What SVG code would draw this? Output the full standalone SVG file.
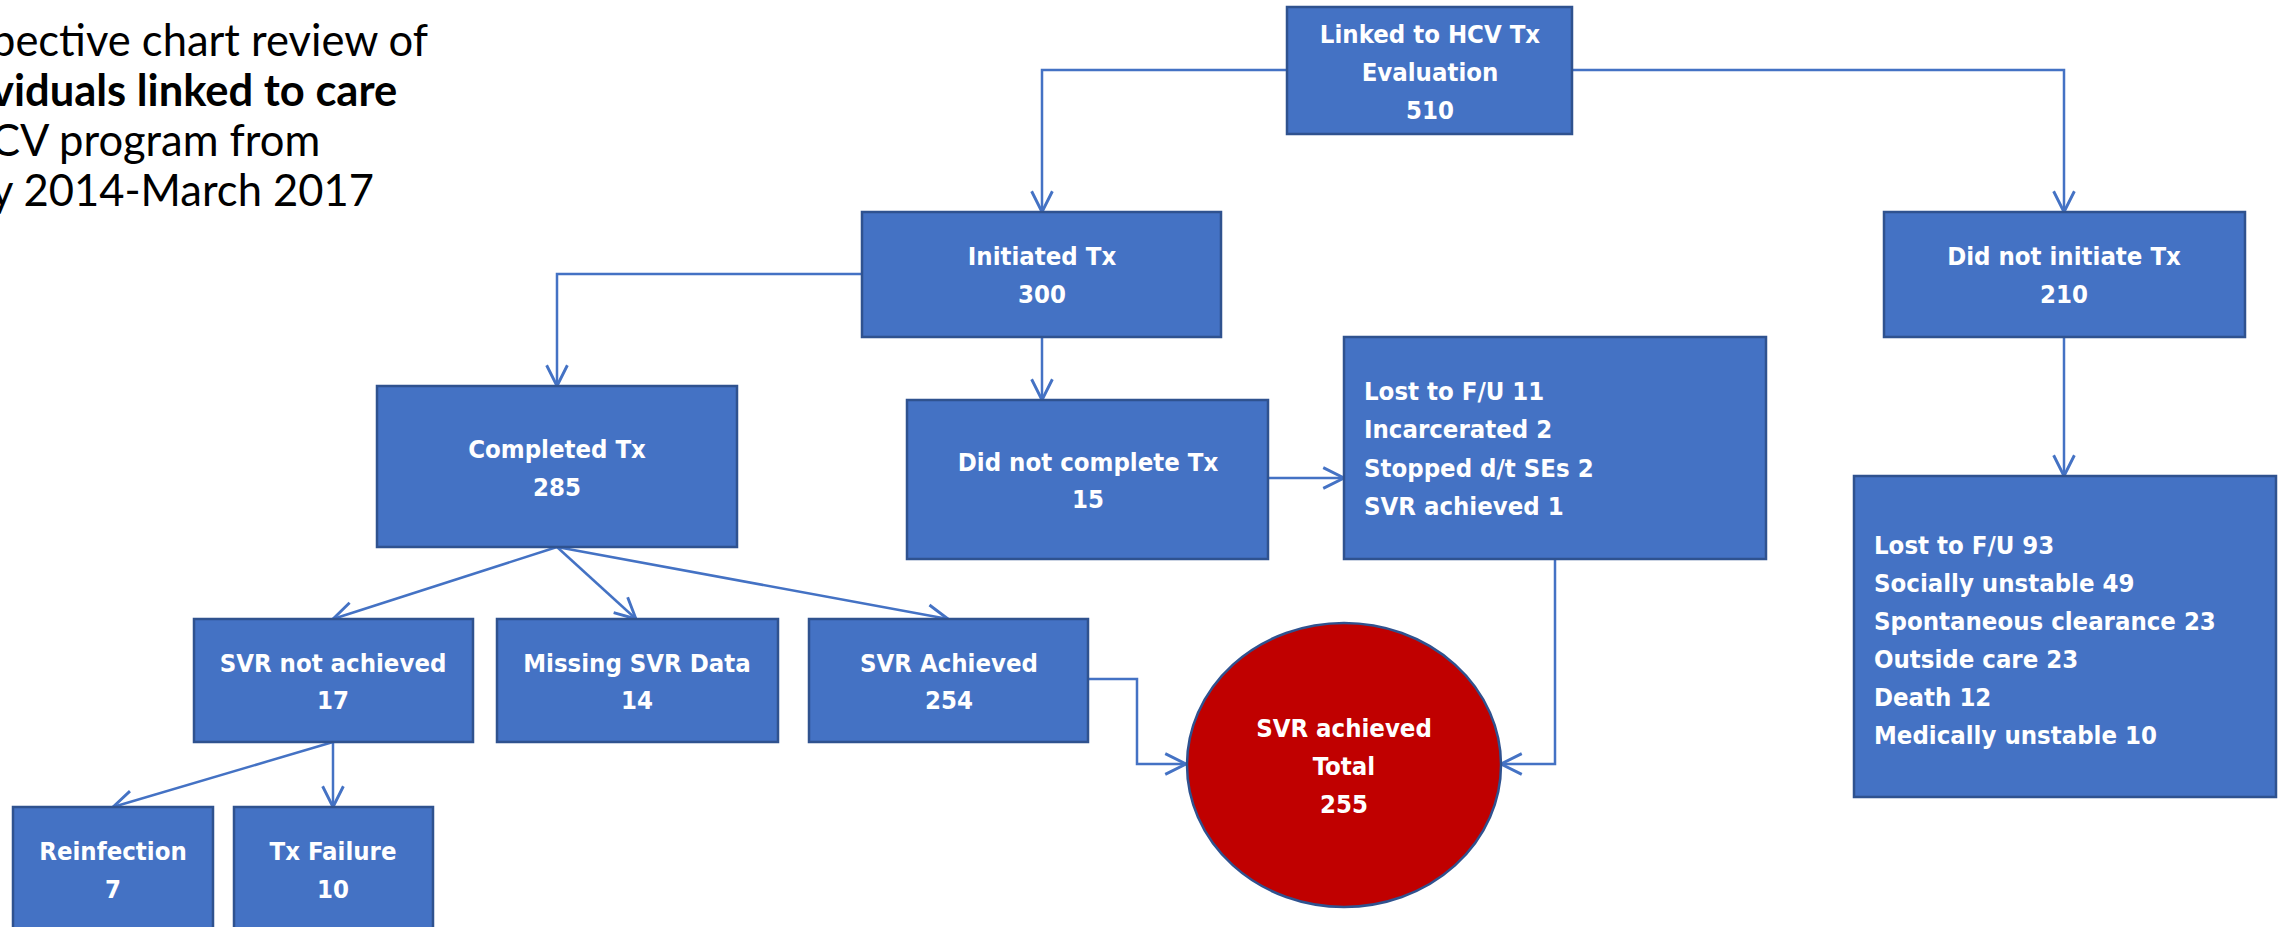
<svg xmlns="http://www.w3.org/2000/svg" width="2283" height="927" viewBox="0 0 2283 927">
<defs>
<style>
.box{fill:#4472C4;stroke:#2F528F;stroke-width:2.5}
.oval{fill:#C00000;stroke:#2F528F;stroke-width:2.5}
.t{font-family:"DejaVu Sans Condensed","DejaVu Sans",sans-serif;font-stretch:condensed;font-weight:bold;font-size:25.5px;fill:#FFFFFF}
.c{text-anchor:middle}
.title{font-family:Lato,"Liberation Sans",sans-serif;font-size:43.5px;fill:#000000}
.conn{fill:none;stroke:#4472C4;stroke-width:2.5;marker-end:url(#arr)}
</style>
<marker id="arr" markerUnits="userSpaceOnUse" markerWidth="30" markerHeight="30" viewBox="-22 -12 26 24" refX="0" refY="0" orient="auto">
<path d="M-18,-9 L0,0 L-18,9" fill="none" stroke="#4472C4" stroke-width="2.5"/>
</marker>
</defs>
<rect width="2283" height="927" fill="#FFFFFF"/>
<g id="title">
<text class="title" x="-9" y="56">pective chart review of</text>
<text class="title" x="-9" y="106" font-weight="bold">viduals linked to care</text>
<text class="title" x="-9" y="156">CV program from</text>
<text class="title" x="-9" y="206">y 2014-March 2017</text>
</g>
<g id="connectors">
<polyline class="conn" points="1287,70 1042,70 1042,212"/>
<polyline class="conn" points="1572,70 2064,70 2064,212"/>
<polyline class="conn" points="862,274 557,274 557,386"/>
<polyline class="conn" points="1042,337 1042,400"/>
<polyline class="conn" points="1268,478 1344,478"/>
<polyline class="conn" points="2064,337 2064,476"/>
<polyline class="conn" points="557,547 333,619"/>
<polyline class="conn" points="557,547 636,619"/>
<polyline class="conn" points="557,547 948,619"/>
<polyline class="conn" points="1088,679 1137,679 1137,764 1186,764"/>
<polyline class="conn" points="1555,559 1555,764 1501,764"/>
<polyline class="conn" points="333,742 113,807"/>
<polyline class="conn" points="333,742 333,807"/>
</g>
<g id="n-linked">
<rect class="box" x="1287" y="7" width="285" height="127"/>
<text class="t c" x="1430" y="43">Linked to HCV Tx</text>
<text class="t c" x="1430" y="81">Evaluation</text>
<text class="t c" x="1430" y="119">510</text>
</g>
<g id="n-initiated">
<rect class="box" x="862" y="212" width="359" height="125"/>
<text class="t c" x="1042" y="265">Initiated Tx</text>
<text class="t c" x="1042" y="303">300</text>
</g>
<g id="n-notinit">
<rect class="box" x="1884" y="212" width="361" height="125"/>
<text class="t c" x="2064" y="265">Did not initiate Tx</text>
<text class="t c" x="2064" y="303">210</text>
</g>
<g id="n-completed">
<rect class="box" x="377" y="386" width="360" height="161"/>
<text class="t c" x="557" y="458">Completed Tx</text>
<text class="t c" x="557" y="496">285</text>
</g>
<g id="n-notcomplete">
<rect class="box" x="907" y="400" width="361" height="159"/>
<text class="t c" x="1088" y="471">Did not complete Tx</text>
<text class="t c" x="1088" y="508">15</text>
</g>
<g id="n-lost">
<rect class="box" x="1344" y="337" width="422" height="222"/>
<text class="t" x="1364" y="400">Lost to F/U 11</text>
<text class="t" x="1364" y="438">Incarcerated 2</text>
<text class="t" x="1364" y="477">Stopped d/t SEs 2</text>
<text class="t" x="1364" y="515">SVR achieved 1</text>
</g>
<g id="n-reasons">
<rect class="box" x="1854" y="476" width="422" height="321"/>
<text class="t" x="1874" y="554">Lost to F/U 93</text>
<text class="t" x="1874" y="592">Socially unstable 49</text>
<text class="t" x="1874" y="630">Spontaneous clearance 23</text>
<text class="t" x="1874" y="668">Outside care 23</text>
<text class="t" x="1874" y="706">Death 12</text>
<text class="t" x="1874" y="744">Medically unstable 10</text>
</g>
<g id="n-svrnot">
<rect class="box" x="194" y="619" width="279" height="123"/>
<text class="t c" x="333" y="672">SVR not achieved</text>
<text class="t c" x="333" y="709">17</text>
</g>
<g id="n-missing">
<rect class="box" x="497" y="619" width="281" height="123"/>
<text class="t c" x="637" y="672">Missing SVR Data</text>
<text class="t c" x="637" y="709">14</text>
</g>
<g id="n-svrach">
<rect class="box" x="809" y="619" width="279" height="123"/>
<text class="t c" x="949" y="672">SVR Achieved</text>
<text class="t c" x="949" y="709">254</text>
</g>
<g id="n-total">
<ellipse class="oval" cx="1344" cy="765" rx="157" ry="142"/>
<text class="t c" x="1344" y="737">SVR achieved</text>
<text class="t c" x="1344" y="775">Total</text>
<text class="t c" x="1344" y="813">255</text>
</g>
<g id="n-reinf">
<rect class="box" x="13" y="807" width="200" height="130"/>
<text class="t c" x="113" y="860">Reinfection</text>
<text class="t c" x="113" y="898">7</text>
</g>
<g id="n-txfail">
<rect class="box" x="234" y="807" width="199" height="130"/>
<text class="t c" x="333" y="860">Tx Failure</text>
<text class="t c" x="333" y="898">10</text>
</g>
</svg>
